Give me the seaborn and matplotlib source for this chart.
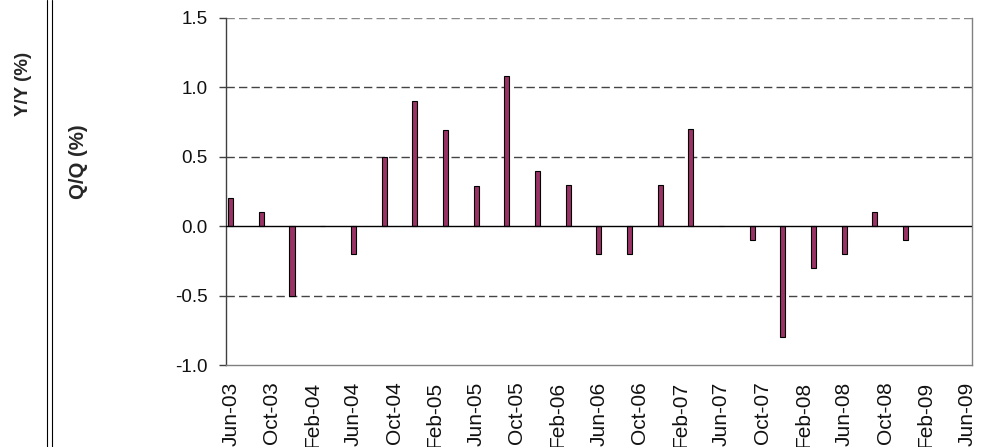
import numpy as np
import pandas as pd
import matplotlib
matplotlib.use("Agg")
import matplotlib.pyplot as plt
from matplotlib.lines import Line2D
import seaborn as sns

# ---- data ----
quarters = ["Jun-03", "Sep-03", "Dec-03", "Mar-04", "Jun-04", "Sep-04", "Dec-04",
            "Mar-05", "Jun-05", "Sep-05", "Dec-05", "Mar-06", "Jun-06", "Sep-06",
            "Dec-06", "Mar-07", "Jun-07", "Sep-07", "Dec-07", "Mar-08", "Jun-08",
            "Sep-08", "Dec-08"]
qq_values = [0.2, 0.1, -0.5, 0.0, -0.2, 0.5, 0.9,
             0.69, 0.29, 1.08, 0.4, 0.3, -0.2, -0.2,
             0.3, 0.7, 0.0, -0.1, -0.8, -0.3, -0.2,
             0.1, -0.1]
tick_labels = ["Jun-03", "Oct-03", "Feb-04", "Jun-04", "Oct-04", "Feb-05", "Jun-05",
               "Oct-05", "Feb-06", "Jun-06", "Oct-06", "Feb-07", "Jun-07", "Oct-07",
               "Feb-08", "Jun-08", "Oct-08", "Feb-09", "Jun-09"]
y_ticks = [-1.0, -0.5, 0.0, 0.5, 1.0, 1.5]

# months since Jun-03 (quarterly observations, labels every 4 months)
month_pos = [i * 3 for i in range(len(quarters))]
tick_pos = [i * 4 for i in range(len(tick_labels))]

df = pd.DataFrame({"month": month_pos, "value": qq_values, "quarter": quarters})

sns.set_style("white")
plt.rcParams["font.family"] = ["Liberation Sans", "DejaVu Sans"]

W, H = 981, 447
fig = plt.figure(figsize=(W / 100, H / 100), dpi=100)
ax = fig.add_axes([226 / W, 1 - 365 / H, (972 - 226) / W, (365 - 18) / H])

sns.barplot(data=df, x="month", y="value", native_scale=True, width=0.5 / 3,
            color="#993366", saturation=1, edgecolor="black", linewidth=0.8,
            errorbar=None, ax=ax, zorder=3)

ax.set_xlim(-0.46, 72.5)
ax.set_ylim(-1.0, 1.5)

# gridlines
for yv in y_ticks:
    if yv in (-1.0, 0.0):
        continue
    ax.axhline(yv, color="#444444" if yv != 1.5 else "#888888", lw=1.0,
               linestyle=(0, (6, 3)), zorder=1)
ax.axhline(0.0, color="black", lw=1.0, zorder=4)

ax.set_yticks(y_ticks)
ax.set_yticklabels([f"{v:.1f}" for v in y_ticks], fontsize=13.5, color="#111111")
ax.set_xticks(tick_pos)
ax.set_xticklabels(tick_labels, rotation=90, fontsize=15, va="top", ha="center",
                   color="#111111")

ax.tick_params(axis="y", direction="out", length=5, width=1, color="#404040",
               pad=8, left=True)
ax.tick_params(axis="x", length=0, pad=12)

ax.set_xlabel("")
ax.set_ylabel("")

ax.spines["top"].set_visible(False)
ax.spines["left"].set_color("#404040")
ax.spines["left"].set_linewidth(1)
ax.spines["bottom"].set_color("#808080")
ax.spines["bottom"].set_linewidth(1)
ax.spines["right"].set_color("#808080")
ax.spines["right"].set_linewidth(1)

# left panel labels and double separator line
fig.text(23 / W, 1 - 83.5 / H, "Y/Y (%)", rotation=90, fontsize=13.5,
         fontweight="bold", ha="center", va="center")
fig.text(78 / W, 1 - 162 / H, "Q/Q (%)", rotation=90, fontsize=14.7,
         fontweight="bold", ha="center", va="center")
for xp in (46.5, 51.5):
    fig.add_artist(Line2D([xp / W, xp / W], [0, 1], color="black", lw=0.8,
                          transform=fig.transFigure))

fig.savefig("out.png", dpi=100)
